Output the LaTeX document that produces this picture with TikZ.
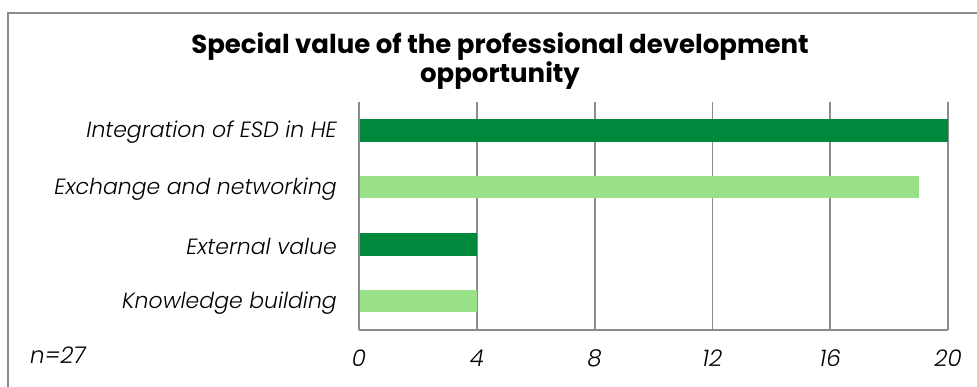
\documentclass[tikz,border=0pt]{standalone}
\usepackage{fontspec}
\setmainfont{Poppins}[ItalicFont={Poppins Light Italic}]
\usetikzlibrary{positioning}
\usepackage{xcolor}

\definecolor{darkbar}{RGB}{0,137,60}
\definecolor{lightbar}{RGB}{152,225,135}
\definecolor{gridgray}{RGB}{140,140,140}

\tikzset{
  catlabel/.style={anchor=east, inner sep=0pt, font=\fontsize{22}{22}\selectfont\itshape},
  ticklabel/.style={anchor=base, inner sep=0pt, font=\fontsize{23}{23}\selectfont\itshape},
  gridline/.style={draw=gridgray, line width=1.8pt},
}

\begin{document}
\begin{tikzpicture}[x=1pt, y=-1pt]

    % Rozmiar obrazka
    \useasboundingbox (0, 0) rectangle (977, 387);

    % Ramka wykresu
    \draw[gridgray, line width=2pt] (8, 400) -- (8, 13) -- (990, 13);

    % Tytuł
    \node[font=\fontsize{26}{29}\selectfont\bfseries, align=center] (title) at (500, 61)
        {Special value of the professional development\\opportunity};

    % Linie siatki (co 4)
    \foreach \v in {0, 4, 8, 12, 16, 20} {
        \draw[gridline] (359 + \v * 29.45, 102) -- (359 + \v * 29.45, 330);
        \node[ticklabel] (tick\v) at (359 + \v * 29.45, 366) {\v};
    }
    \draw[gridline] (359, 330) -- (948, 330);

    % Słupki
    \foreach \val/\yc/\col in {20/130.5/darkbar, 19/187.3/lightbar, 4/244.5/darkbar, 4/301.3/lightbar} {
        \fill[\col] (360, \yc - 11.2) rectangle (359 + \val * 29.45, \yc + 11.2);
    }

    % Etykiety kategorii
    \node[catlabel] (integration) at (337, 132) {Integration of ESD in HE};
    \node[catlabel] (exchange) at (337, 189) {Exchange and networking};
    \node[catlabel] (external) at (337, 246) {External value};
    \node[catlabel] (knowledge) at (337, 303) {Knowledge building};

    % Liczebność
    \node[ticklabel, anchor=base west] (nsize) at (30, 363) {n=27};

\end{tikzpicture}
\end{document}
